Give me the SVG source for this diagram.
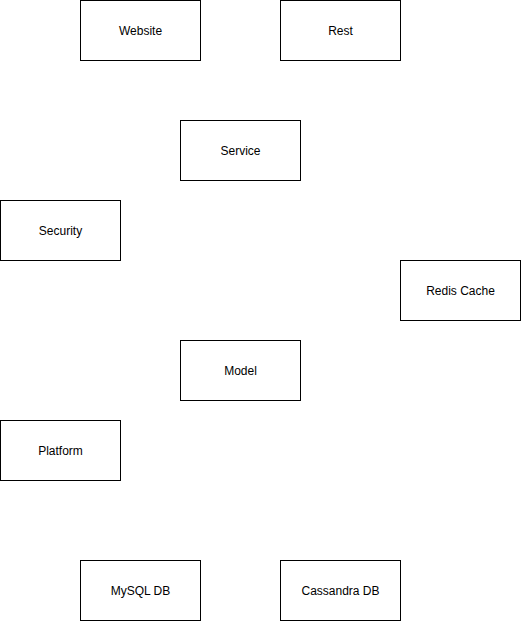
<svg xmlns="http://www.w3.org/2000/svg" width="521" height="621" viewBox="0 0 521 621">
<style>
.box{fill:#ffffff;stroke:#000000;stroke-width:1}
.lbl{font-family:"Liberation Sans",Arial,Helvetica,sans-serif;font-size:12px;fill:#000000;text-anchor:middle;dominant-baseline:central}
</style>
<rect width="521" height="621" fill="#ffffff"/>
<g id="connectors"></g>
<g id="website"><rect class="box" x="80.5" y="0.5" width="120" height="60"/><text class="lbl" x="140.5" y="30.5">Website</text></g>
<g id="rest"><rect class="box" x="280.5" y="0.5" width="120" height="60"/><text class="lbl" x="340.5" y="30.5">Rest</text></g>
<g id="service"><rect class="box" x="180.5" y="120.5" width="120" height="60"/><text class="lbl" x="240.5" y="150.5">Service</text></g>
<g id="security"><rect class="box" x="0.5" y="200.5" width="120" height="60"/><text class="lbl" x="60.5" y="230.5">Security</text></g>
<g id="redis"><rect class="box" x="400.5" y="260.5" width="120" height="60"/><text class="lbl" x="460.5" y="290.5">Redis Cache</text></g>
<g id="model"><rect class="box" x="180.5" y="340.5" width="120" height="60"/><text class="lbl" x="240.5" y="370.5">Model</text></g>
<g id="platform"><rect class="box" x="0.5" y="420.5" width="120" height="60"/><text class="lbl" x="60.5" y="450.5">Platform</text></g>
<g id="mysql"><rect class="box" x="80.5" y="560.5" width="120" height="60"/><text class="lbl" x="140.5" y="590.5">MySQL DB</text></g>
<g id="cassandra"><rect class="box" x="280.5" y="560.5" width="120" height="60"/><text class="lbl" x="340.5" y="590.5">Cassandra DB</text></g>
</svg>
